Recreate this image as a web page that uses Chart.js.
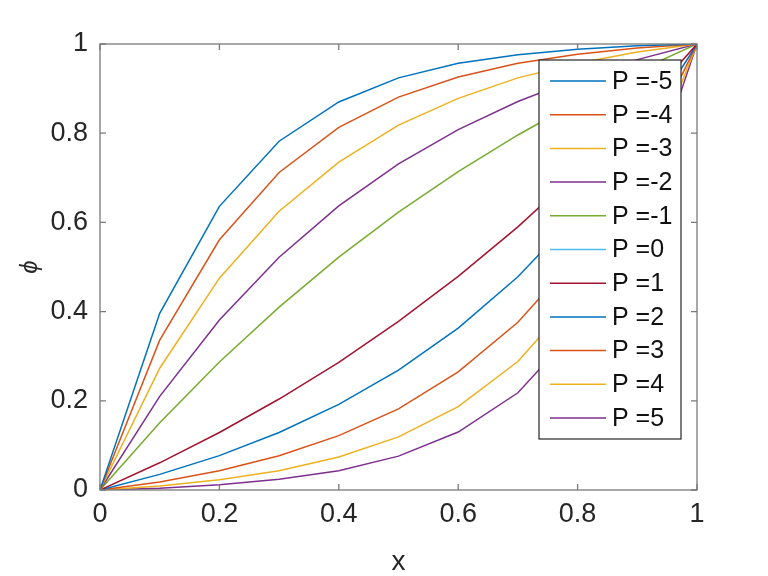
<!DOCTYPE html>
<html>
<head>
<meta charset="utf-8">
<script src="https://cdn.jsdelivr.net/npm/chart.js@4/dist/chart.umd.min.js"></script>
<style>
    html, body { margin: 0; padding: 0; background: #fff; }
    #wrap { width: 768px; height: 576px; }
</style>
</head>
<body>
<div id="wrap"><canvas id="phiChart" width="768" height="576"></canvas></div>
<script>
// x positions of the samples
const xValues = [0, 0.1, 0.2, 0.3, 0.4, 0.5, 0.6, 0.7, 0.8, 0.9, 1];

// series labels and values
const pLabels = ['P =-5', 'P =-4', 'P =-3', 'P =-2', 'P =-1', 'P =0', 'P =1', 'P =2', 'P =3', 'P =4', 'P =5'];
const pm5 = [0, 0.396, 0.636, 0.782, 0.870, 0.924, 0.957, 0.976, 0.988, 0.996, 1];
const pm4 = [0, 0.336, 0.561, 0.712, 0.813, 0.881, 0.926, 0.957, 0.977, 0.991, 1];
const pm3 = [0, 0.273, 0.475, 0.625, 0.735, 0.818, 0.878, 0.924, 0.957, 0.982, 1];
const pm2 = [0, 0.210, 0.381, 0.522, 0.637, 0.731, 0.808, 0.871, 0.923, 0.965, 1];
const pm1 = [0, 0.151, 0.287, 0.410, 0.522, 0.623, 0.714, 0.796, 0.871, 0.939, 1];
const p0 = [null, null, null, null, null, null, null, null, null, null, null];
const p1 = [0, 0.061, 0.129, 0.204, 0.286, 0.378, 0.479, 0.590, 0.713, 0.850, 1];
const p2 = [0, 0.035, 0.077, 0.129, 0.192, 0.269, 0.363, 0.478, 0.619, 0.790, 1];
const p3 = [0, 0.018, 0.043, 0.077, 0.122, 0.182, 0.265, 0.376, 0.525, 0.727, 1];
const p4 = [0, 0.009, 0.023, 0.043, 0.074, 0.119, 0.187, 0.288, 0.439, 0.664, 1];
const p5 = [0, 0.004, 0.012, 0.024, 0.043, 0.076, 0.130, 0.218, 0.364, 0.604, 1];
const seriesValues = [pm5, pm4, pm3, pm2, pm1, p0, p1, p2, p3, p4, p5];

// tick values
const xTicks = [0, 0.2, 0.4, 0.6, 0.8, 1];
const yTicks = [0, 0.2, 0.4, 0.6, 0.8, 1];

const lineColors = ['#0072BD', '#D95319', '#EDB120', '#7E2F8E', '#77AC30', '#4DBEEE',
    '#A2142F', '#0072BD', '#D95319', '#EDB120', '#7E2F8E'];

const FONT = 'Liberation Sans, Arial, sans-serif';
const AXIS_GRAY = '#7a7a7a';

// box around the axes plus inward ticks on all four sides
const boxTicks = {
    id: 'boxTicks',
    afterDatasetsDraw(chart) {
        const { ctx, chartArea: a, scales } = chart;
        const len = 6;
        ctx.save();
        ctx.strokeStyle = AXIS_GRAY;
        ctx.lineWidth = 1.3;
        ctx.strokeRect(a.left, a.top, a.right - a.left, a.bottom - a.top);
        ctx.beginPath();
        xTicks.forEach(v => {
            const px = scales.x.getPixelForValue(v);
            ctx.moveTo(px, a.bottom); ctx.lineTo(px, a.bottom - len);
            ctx.moveTo(px, a.top); ctx.lineTo(px, a.top + len);
        });
        yTicks.forEach(v => {
            const py = scales.y.getPixelForValue(v);
            ctx.moveTo(a.left, py); ctx.lineTo(a.left + len, py);
            ctx.moveTo(a.right, py); ctx.lineTo(a.right - len, py);
        });
        ctx.stroke();
        ctx.restore();
    }
};

// MATLAB-style legend box in the upper right of the axes
const insideLegend = {
    id: 'insideLegend',
    afterDraw(chart) {
        const { ctx } = chart;
        const box = { left: 539, top: 60, right: 681, bottom: 439 };
        const step = 33.7;
        ctx.save();
        ctx.fillStyle = '#fff';
        ctx.fillRect(box.left, box.top, box.right - box.left, box.bottom - box.top);
        ctx.strokeStyle = '#262626';
        ctx.lineWidth = 1.2;
        ctx.strokeRect(box.left, box.top, box.right - box.left, box.bottom - box.top);
        ctx.font = '25px ' + FONT;
        ctx.textBaseline = 'middle';
        chart.data.datasets.forEach((ds, i) => {
            const y = box.top + 21 + i * step;
            ctx.strokeStyle = ds.borderColor;
            ctx.lineWidth = 1.5;
            ctx.beginPath();
            ctx.moveTo(550, y);
            ctx.lineTo(606, y);
            ctx.stroke();
            ctx.fillStyle = '#111';
            ctx.fillText(ds.label, 612, y + 1);
        });
        ctx.restore();
    }
};

const datasets = seriesValues.map((vals, i) => ({
    label: pLabels[i],
    data: xValues.map((x, j) => ({ x: x, y: vals[j] })),
    borderColor: lineColors[i],
    backgroundColor: lineColors[i],
    borderWidth: 1.5,
    pointRadius: 0,
    tension: 0,
    fill: false
}));

new Chart(document.getElementById('phiChart').getContext('2d'), {
    type: 'line',
    data: { datasets: datasets },
    options: {
        responsive: false,
        animation: false,
        layout: { padding: { top: 44, right: 71, left: 0, bottom: 0 } },
        plugins: {
            legend: { display: false },
            tooltip: { enabled: false }
        },
        scales: {
            x: {
                type: 'linear',
                min: 0,
                max: 1,
                afterFit: scale => { scale.height = 86; },
                afterBuildTicks: scale => { scale.ticks = xTicks.map(v => ({ value: v })); },
                grid: { display: false, drawTicks: false },
                border: { display: false },
                ticks: {
                    color: '#262626',
                    font: { family: FONT, size: 27 },
                    padding: 8,
                    maxRotation: 0,
                    callback: v => String(v)
                },
                title: {
                    display: true,
                    text: 'x',
                    color: '#262626',
                    font: { family: FONT, size: 28, lineHeight: 1.0 },
                    padding: { top: 0, bottom: 0 }
                }
            },
            y: {
                type: 'linear',
                min: 0,
                max: 1,
                afterFit: scale => { scale.width = 100; },
                afterBuildTicks: scale => { scale.ticks = yTicks.map(v => ({ value: v })); },
                grid: { display: false, drawTicks: false },
                border: { display: false },
                ticks: {
                    color: '#262626',
                    font: { family: FONT, size: 27 },
                    padding: 12,
                    callback: v => String(v)
                },
                title: {
                    display: true,
                    text: 'ϕ',
                    color: '#262626',
                    font: { family: FONT, size: 24, style: 'italic' },
                    padding: { top: 16, bottom: 0 }
                }
            }
        }
    },
    plugins: [boxTicks, insideLegend]
});
</script>
</body>
</html>
